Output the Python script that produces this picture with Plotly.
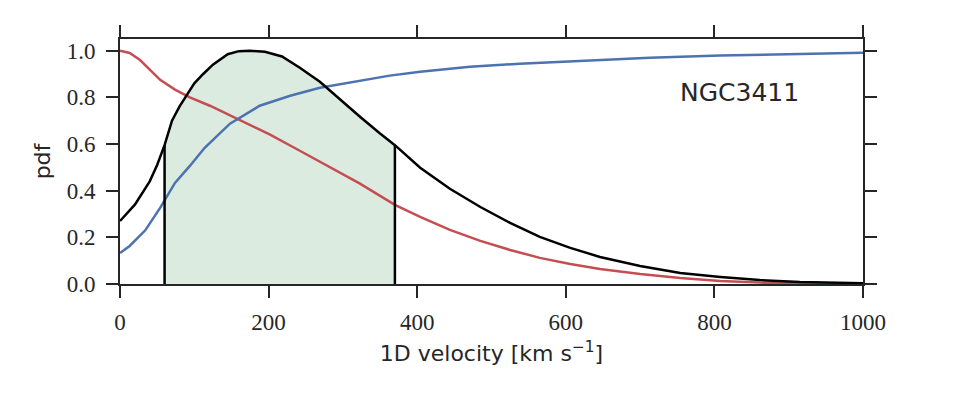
import plotly.graph_objects as go

# black: pdf normalised to peak
v_pdf = [0, 20, 40, 50, 60, 70, 80, 90, 100, 112, 125, 145, 160, 175, 195, 218, 242, 269,
         296, 323, 350, 370, 404, 444, 485, 525, 565, 606, 646, 700, 754, 808, 861, 915, 1000]
pdf = [0.27, 0.34, 0.44, 0.51, 0.595, 0.70, 0.76, 0.81, 0.86, 0.90, 0.94, 0.985, 0.998, 1.0,
       0.995, 0.975, 0.927, 0.867, 0.79, 0.717, 0.645, 0.595, 0.498, 0.408, 0.33, 0.262, 0.202,
       0.155, 0.116, 0.077, 0.047, 0.03, 0.017, 0.009, 0.003]

# red: decreasing curve
v_red = [0, 13, 27, 40, 54, 74, 94, 121, 161, 202, 242, 283, 323, 370, 404, 444, 485, 525,
         565, 606, 646, 700, 754, 808, 861, 1000]
red = [1.0, 0.99, 0.96, 0.92, 0.875, 0.833, 0.80, 0.764, 0.704, 0.64, 0.571, 0.498, 0.43,
       0.339, 0.288, 0.232, 0.185, 0.146, 0.112, 0.086, 0.064, 0.043, 0.026, 0.013, 0.006, 0.0]

# blue: increasing curve
v_blue = [0, 13, 34, 54, 74, 94, 114, 148, 188, 229, 269, 310, 363, 404, 471, 538, 619, 713,
          808, 915, 1000]
blue = [0.133, 0.163, 0.23, 0.326, 0.433, 0.506, 0.584, 0.687, 0.764, 0.807, 0.841, 0.863,
        0.893, 0.91, 0.931, 0.944, 0.957, 0.97, 0.979, 0.987, 0.991]

v_lo, v_hi = 60, 370
label = "NGC3411"
x_ticks = [0, 200, 400, 600, 800, 1000]
y_ticks = [0.0, 0.2, 0.4, 0.6, 0.8, 1.0]

RED = "#C44E52"
BLUE = "#4C72B0"
FILL = "#dcebdf"
INK = "#262626"

fig = go.Figure()

# shaded interval under pdf
sx = [v for v in v_pdf if v_lo <= v <= v_hi]
sy = [p for v, p in zip(v_pdf, pdf) if v_lo <= v <= v_hi]
fig.add_trace(go.Scatter(x=[v_lo] + sx + [v_hi], y=[0] + sy + [0], fill="toself",
                         fillcolor=FILL, line=dict(width=0), mode="lines",
                         hoverinfo="skip", showlegend=False))

fig.add_trace(go.Scatter(x=v_red, y=red, mode="lines", line=dict(color=RED, width=2.5),
                         showlegend=False))
fig.add_trace(go.Scatter(x=v_blue, y=blue, mode="lines", line=dict(color=BLUE, width=2.5),
                         showlegend=False))
fig.add_trace(go.Scatter(x=v_pdf, y=pdf, mode="lines", line=dict(color="black", width=2.5),
                         showlegend=False))
# vertical boundary lines
for vb, pb in ((v_lo, sy[0]), (v_hi, sy[-1])):
    fig.add_trace(go.Scatter(x=[vb, vb], y=[0, pb], mode="lines",
                             line=dict(color="black", width=2.5), showlegend=False))

fig.add_annotation(x=751, y=0.82, xref="x", yref="y", text=label, showarrow=False,
                   xanchor="left", yanchor="middle",
                   font=dict(family="DejaVu Sans", size=25, color=INK))

axis_common = dict(showline=True, linecolor=INK, linewidth=1.8, mirror="ticks",
                   ticks="outside", ticklen=12, tickwidth=1.5, tickcolor=INK,
                   showgrid=False, zeroline=False,
                   tickfont=dict(family="Liberation Serif", size=23, color=INK))

fig.update_xaxes(range=[0, 1000], tickvals=x_ticks, ticktext=[str(t) for t in x_ticks],
                 ticklabelstandoff=4,
                 title=dict(text="1D velocity [km s<sup>−1</sup>]",
                            font=dict(family="DejaVu Sans", size=22, color=INK),
                            standoff=12),
                 **axis_common)
fig.update_yaxes(range=[0, 1.05], tickvals=y_ticks, ticktext=[f"{t:.1f}" for t in y_ticks],
                 ticklabelstandoff=6,
                 title=dict(text="pdf", font=dict(family="DejaVu Sans", size=22, color=INK),
                            standoff=10),
                 **axis_common)

fig.update_layout(width=960, height=396, margin=dict(l=120, r=97, t=39, b=112),
                  plot_bgcolor="white", paper_bgcolor="white")

fig.write_html("out.html")
